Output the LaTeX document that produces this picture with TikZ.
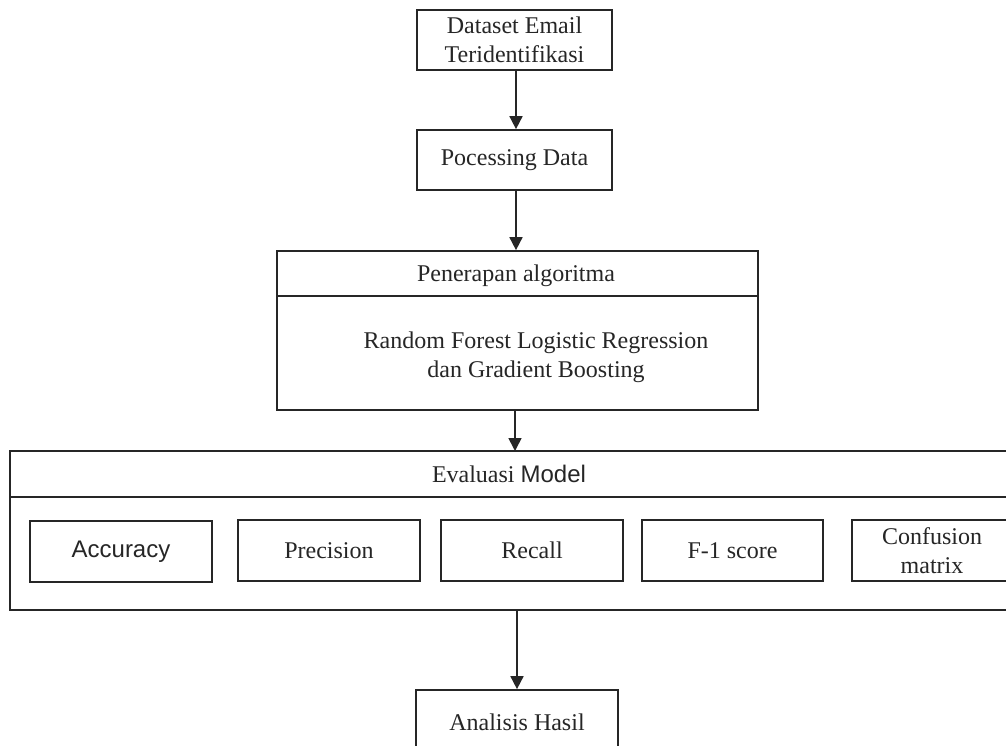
\documentclass[tikz,border=0pt]{standalone}
\usepackage{fontspec}
\setmainfont{Liberation Serif}
\newfontfamily\arialf{Liberation Sans}
\usetikzlibrary{arrows.meta}
\begin{document}
\begin{tikzpicture}[x=1pt,y=-1pt,
  box/.style={draw=black!85,line width=1.7pt,inner sep=0pt,align=center,font=\fontsize{24}{29}\selectfont,text=black!85},
  arr/.style={draw=black!85,line width=1.7pt,-{Triangle[width=13pt,length=13pt]}}]
\useasboundingbox (0,0) rectangle (1006,746);
\clip (0,0) rectangle (1006,746);
\fill[white] (0,0) rectangle (1006,746);
\node[box,minimum width=195pt,minimum height=60pt] (ds) at (514.5,40) {Dataset Email\\Teridentifikasi};
\node[box,minimum width=195pt,minimum height=60pt] (pd) at (514.5,160) {Pocessing Data};
\node[box,minimum width=481pt,minimum height=159pt] (pa) at (517.5,330.5) {};
\draw[black!85,line width=1.7pt] (277,296) -- (758,296);
\node[box,draw=none] (pat) at (516,276) {Penerapan algoritma};
\node[box,draw=none] (pab) at (536,357) {Random Forest Logistic Regression\\dan Gradient Boosting};
\node[box,minimum width=1010pt,minimum height=159pt] (ev) at (515,530.5) {};
\draw[black!85,line width=1.7pt] (10,497) -- (1020,497);
\node[box,draw=none] (evt) at (509,474) {Evaluasi {\arialf Model}};
\node[box,minimum width=182pt,minimum height=61pt] (acc) at (121,551.5) {\arialf Accuracy};
\node[box,minimum width=182pt,minimum height=61pt] (pre) at (329,550.5) {Precision};
\node[box,minimum width=182pt,minimum height=61pt] (rec) at (532,550.5) {Recall};
\node[box,minimum width=181pt,minimum height=61pt] (f1) at (732.5,550.5) {F-1 score};
\node[box,minimum width=160pt,minimum height=61pt,text width=160pt] (cm) at (932,550.5) {Confusion\\matrix};
\node[box,minimum width=202pt,minimum height=70pt] (an) at (517,725) {};
\node[box,draw=none] (ant) at (517,722) {Analisis Hasil};
\draw[arr] (ds.south -| 516,0) -- (pd.north -| 516,0);
\draw[arr] (pd.south -| 516,0) -- (pa.north -| 516,0);
\draw[arr] (pa.south -| 515,0) -- (515,451);
\draw[arr] (ev.south -| an.north) -- (an.north);
\end{tikzpicture}
\end{document}
